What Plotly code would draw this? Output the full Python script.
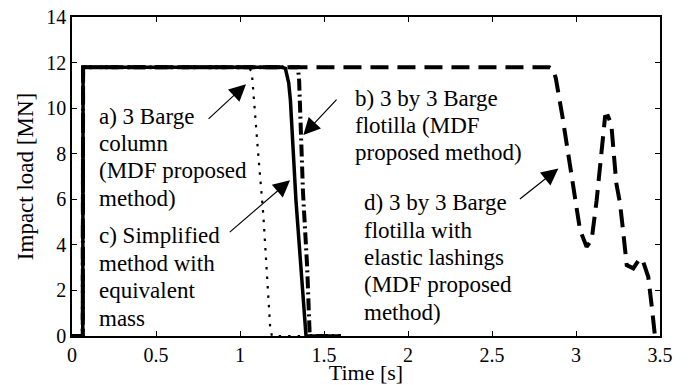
import plotly.graph_objects as go

# ---- data (time in s, impact load in MN) ----
t_a = [0, 0.064, 0.066, 1.25, 1.27, 1.29, 1.30, 1.333, 1.393, 1.6]
v_a = [0, 0, 11.8, 11.8, 11.75, 11.1, 10.35, 5.96, 0, 0]

t_b = [0, 0.064, 0.066, 1.345, 1.352, 1.375, 1.40, 1.415, 1.6]
v_b = [0, 0, 11.8, 11.8, 11.2, 6.3, 3.0, 0, 0]

t_c = [0, 0.064, 0.066, 1.04, 1.06, 1.07, 1.109, 1.139, 1.18, 1.19, 1.4]
v_c = [0, 0, 11.8, 11.8, 11.7, 11.6, 7.94, 5.3, 0.35, 0, 0]

t_d = [0, 0.064, 0.066, 2.84, 2.865, 2.88, 2.92, 2.96, 2.994, 3.024, 3.063, 3.093,
       3.123, 3.143, 3.173, 3.19, 3.21, 3.24, 3.262, 3.282, 3.302, 3.341, 3.381,
       3.40, 3.43, 3.45, 3.47]
v_d = [0, 0, 11.8, 11.8, 11.7, 11.3, 9.6, 7.7, 6.11, 4.65, 3.92, 4.21,
       5.96, 7.43, 9.62, 9.65, 9.3, 6.7, 5.82, 4.5, 3.11, 2.97, 3.41,
       3.26, 2.6, 1.36, 0.0]

x_ticks = [0, 0.5, 1, 1.5, 2, 2.5, 3, 3.5]
x_tick_labels = ["0", "0.5", "1", "1.5", "2", "2.5", "3", "3.5"]
y_ticks = [0, 2, 4, 6, 8, 10, 12, 14]

labels = [
    ["a) 3 Barge", "column", "(MDF proposed", "method)"],
    ["b) 3 by 3 Barge", "flotilla (MDF", "proposed method)"],
    ["c) Simplified", "method with", "equivalent", "mass"],
    ["d) 3 by 3 Barge", "flotilla with", "elastic lashings", "(MDF proposed", "method)"],
]
# left x and first-line baseline (data units)
label_pos = [(0.149, 9.34), (1.673, 10.13), (0.149, 4.08), (1.726, 5.53)]
line_step = 1.2          # data units between text lines
arrow_tail = [(0.804, 9.47), (1.583, 10.44), (0.930, 4.50), (2.657, 5.96)]
arrow_head = [(1.036, 11.05), (1.377, 8.82), (1.298, 6.84), (2.895, 7.35)]

FONT = "Liberation Serif"

fig = go.Figure()
fig.add_trace(go.Scatter(x=t_c, y=v_c, mode="lines",
                         line=dict(color="black", width=2.2, dash="2.5px,7px")))
fig.add_trace(go.Scatter(x=t_b, y=v_b, mode="lines",
                         line=dict(color="black", width=4, dash="12px,4px,2px,4px")))
fig.add_trace(go.Scatter(x=t_d, y=v_d, mode="lines",
                         line=dict(color="black", width=4, dash="18px,9px")))
fig.add_trace(go.Scatter(x=t_a, y=v_a, mode="lines",
                         line=dict(color="black", width=3.5)))

annotations = []
for lines, (x, y0) in zip(labels, label_pos):
    for i, txt in enumerate(lines):
        annotations.append(dict(x=x, y=y0 - i * line_step + 0.31, xref="x", yref="y",
                                text=txt, showarrow=False,
                                xanchor="left", yanchor="middle", align="left",
                                font=dict(family=FONT, size=23, color="black")))
for (tx, ty), (hx, hy) in zip(arrow_tail, arrow_head):
    annotations.append(dict(x=hx, y=hy, ax=tx, ay=ty, xref="x", yref="y",
                            axref="x", ayref="y", text="", showarrow=True,
                            arrowhead=2, arrowsize=2.8, arrowwidth=1.2,
                            arrowcolor="black"))

axis_common = dict(showline=True, linecolor="black", linewidth=1.5, mirror="ticks",
                   ticks="inside", ticklen=5, tickwidth=1, tickcolor="black",
                   showgrid=False, zeroline=False,
                   tickfont=dict(family=FONT, size=20, color="black"))

fig.update_layout(
    width=691, height=385,
    margin=dict(l=72, r=31, t=17, b=49, autoexpand=False),
    paper_bgcolor="white", plot_bgcolor="white",
    showlegend=False,
    annotations=annotations,
    xaxis=dict(range=[0, 3.5], tickvals=x_ticks, ticktext=x_tick_labels,
               title=dict(text="Time [s]", font=dict(family=FONT, size=22, color="black"),
                          standoff=4),
               **axis_common),
    yaxis=dict(range=[0, 14], tickvals=y_ticks,
               title=dict(text="Impact load [MN]", font=dict(family=FONT, size=23, color="black"),
                          standoff=6),
               **axis_common),
)

fig.write_html("out.html")
